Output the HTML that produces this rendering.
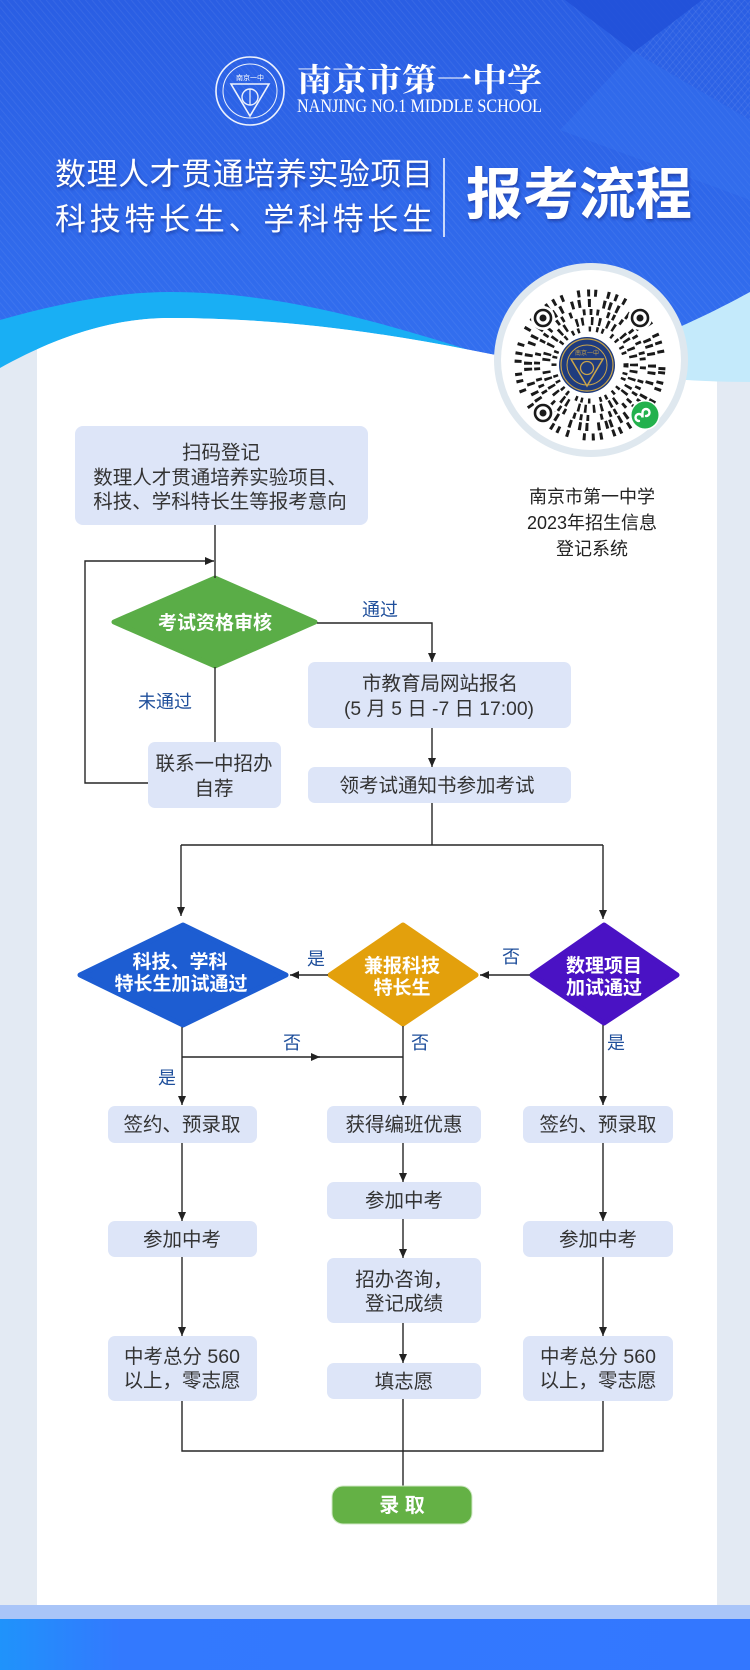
<!DOCTYPE html>
<html><head><meta charset="utf-8">
<style>
html,body{margin:0;padding:0;width:750px;height:1670px;overflow:hidden;background:#e3eaf3}
svg{display:block}
text{font-family:"Liberation Sans","Noto Sans CJK SC",sans-serif}
</style></head><body>
<svg width="750" height="1670" viewBox="0 0 750 1670" xmlns="http://www.w3.org/2000/svg">
<defs>
 <linearGradient id="hdr" x1="0" y1="0" x2="0" y2="1">
  <stop offset="0" stop-color="#2a5ee3"/><stop offset="1" stop-color="#3574f3"/>
 </linearGradient>
 <pattern id="str1" width="5" height="5" patternUnits="userSpaceOnUse" patternTransform="rotate(-40)">
  <line x1="0" y1="0" x2="0" y2="5" stroke="#ffffff" stroke-opacity="0.07" stroke-width="1.6"/>
 </pattern>
 <pattern id="str2" width="5" height="5" patternUnits="userSpaceOnUse" patternTransform="rotate(40)">
  <line x1="0" y1="0" x2="0" y2="5" stroke="#ffffff" stroke-opacity="0.09" stroke-width="1.6"/>
 </pattern>
 <linearGradient id="bot" x1="0" y1="0" x2="1" y2="0">
  <stop offset="0" stop-color="#1f93fb"/><stop offset="0.16" stop-color="#3379fe"/><stop offset="1" stop-color="#3377ff"/>
 </linearGradient>
 <marker id="ah" markerWidth="9" markerHeight="8" refX="9" refY="4" orient="auto" markerUnits="userSpaceOnUse">
  <path d="M0,0 L9,4 L0,8 Z" fill="#222"/>
 </marker>
 <filter id="sh" x="-10%" y="-30%" width="120%" height="160%">
  <feDropShadow dx="1" dy="2" stdDeviation="1.6" flood-color="#0a2070" flood-opacity="0.55"/>
 </filter>
 <clipPath id="panel"><rect x="37" y="0" width="680" height="1605"/></clipPath>
</defs>

<!-- header -->
<rect x="0" y="0" width="750" height="470" fill="url(#hdr)"/>
<rect x="0" y="0" width="750" height="470" fill="url(#str1)"/>
<polygon points="565,0 702,0 634,52" fill="#2150d8" opacity="0.85"/>
<polygon points="702,0 750,0 750,120 634,52" fill="url(#str2)"/>
<polygon points="634,52 750,120 750,200 560,130" fill="#3a78f4" opacity="0.35"/>

<!-- waves -->
<path d="M300,330 C400,345 450,362 520,364 C600,366 680,330 750,292 L750,470 L300,470 Z" fill="#c4eafb"/>
<path d="M0,320 C50,306 110,292 170,292 C280,292 380,322 482,354 L482,470 L0,470 Z" fill="#19aff4"/>
<path d="M0,368 C40,346 100,318 170,318 C270,318 370,330 470,350 C570,370 660,382 750,382 L750,1670 L0,1670 Z" fill="#e3eaf3"/>
<path d="M0,368 C40,346 100,318 170,318 C270,318 370,330 470,350 C570,370 660,382 750,382 L750,1670 L0,1670 Z" fill="#ffffff" clip-path="url(#panel)"/>

<!-- bottom band -->
<rect x="0" y="1605" width="750" height="14" fill="#a9c5f8"/>
<rect x="0" y="1619" width="750" height="51" fill="url(#bot)"/>

<!-- header logo -->
<g fill="none" stroke="#ffffff" opacity="0.92">
 <circle cx="250" cy="91" r="34" stroke-width="1.6"/>
 <circle cx="250" cy="91" r="27" stroke-width="1"/>
 <path d="M231,84 L269,84 L250,116 Z" stroke-width="1.6"/>
 <circle cx="250" cy="97" r="8" stroke-width="1.4"/>
 <line x1="250" y1="89" x2="250" y2="105" stroke-width="1.2"/>
</g>
<text x="250" y="80" font-size="7" fill="#fff" text-anchor="middle">南京一中</text>

<text x="297" y="91" font-size="32" fill="#ffffff" font-weight="bold" textLength="245" lengthAdjust="spacingAndGlyphs" style="font-family:'Noto Serif CJK SC','Liberation Serif',serif">南京市第一中学</text>
<text x="297" y="112" font-size="19" fill="#ffffff" textLength="245" lengthAdjust="spacingAndGlyphs" style="font-family:'Liberation Serif',serif">NANJING NO.1 MIDDLE SCHOOL</text>

<!-- title -->
<g filter="url(#sh)" fill="#ffffff">
 <text x="55" y="185" font-size="31" textLength="378" lengthAdjust="spacing">数理人才贯通培养实验项目</text>
 <text x="55" y="230" font-size="31" textLength="378" lengthAdjust="spacing">科技特长生、学科特长生</text>
 <text x="466" y="214" font-size="56" font-weight="bold" textLength="226" lengthAdjust="spacingAndGlyphs">报考流程</text>
</g>
<line x1="444" y1="158" x2="444" y2="237" stroke="#ffffff" stroke-opacity="0.75" stroke-width="2"/>

<!-- QR code -->
<circle cx="591" cy="360" r="97" fill="#dfe8ef"/>
<circle cx="591" cy="360" r="90" fill="#ffffff"/>
<g fill="none" stroke="#1a1a1a">
 <circle cx="590" cy="365" r="36" stroke-width="5" stroke-dasharray="2.5 5 2.5 3 2.5 8 2.5 4 2.5 6 2.5 3.5 2.5 9"/>
 <circle cx="590" cy="365" r="44" stroke-width="8" stroke-dasharray="2.6 6 2.6 4 2.6 10 2.6 3 2.6 7 2.6 5" transform="rotate(17 590 365)"/>
 <circle cx="590" cy="365" r="53" stroke-width="6" stroke-dasharray="2.8 4 2.8 8 2.8 3 2.8 6 2.8 11 2.8 4" transform="rotate(41 590 365)"/>
 <circle cx="590" cy="365" r="62" stroke-width="8" stroke-dasharray="3 5 3 9 3 4 3 7 3 12 3 3" transform="rotate(73 590 365)"/>
 <circle cx="590" cy="365" r="72" stroke-width="7" stroke-dasharray="3 7 3 4 3 10 3 5 3 6 3 14" transform="rotate(5 590 365)"/>
</g>
<g>
 <circle cx="543" cy="318" r="12" fill="#fff"/><circle cx="543" cy="318" r="8" fill="none" stroke="#1a1a1a" stroke-width="2.6"/><circle cx="543" cy="318" r="3.5" fill="#1a1a1a"/>
 <circle cx="640" cy="318" r="12" fill="#fff"/><circle cx="640" cy="318" r="8" fill="none" stroke="#1a1a1a" stroke-width="2.6"/><circle cx="640" cy="318" r="3.5" fill="#1a1a1a"/>
 <circle cx="543" cy="413" r="12" fill="#fff"/><circle cx="543" cy="413" r="8" fill="none" stroke="#1a1a1a" stroke-width="2.6"/><circle cx="543" cy="413" r="3.5" fill="#1a1a1a"/>
</g>
<circle cx="587" cy="365" r="30" fill="#ffffff"/>
<circle cx="587" cy="365" r="28" fill="#1f3c7e"/>
<g fill="none" stroke="#c9a44a">
 <circle cx="587" cy="365" r="26" stroke-width="1.2"/>
 <circle cx="587" cy="365" r="20" stroke-width="1"/>
 <path d="M571,359 L603,359 L587,386 Z" stroke-width="1.5"/>
 <circle cx="587" cy="368" r="6.5" stroke-width="1.3"/>
</g>
<text x="587" y="355" font-size="6" fill="#c9a44a" text-anchor="middle">南京一中</text>
<circle cx="645" cy="415" r="15" fill="#ffffff"/>
<circle cx="645" cy="415" r="13.5" fill="#23b14d"/>
<path d="M639,421 a3.5,3.5 0 1,1 3.5,-3.5 l0,-5 a3.5,3.5 0 1,1 3.5,3.5" fill="none" stroke="#fff" stroke-width="2.4" stroke-linecap="round"/>

<g font-size="18" fill="#222" text-anchor="middle">
 <text x="592" y="503">南京市第一中学</text>
 <text x="592" y="529">2023年招生信息</text>
 <text x="592" y="555">登记系统</text>
</g>

<!-- boxes -->
<g fill="#dde5f8">
 <rect x="75" y="426" width="293" height="99" rx="8"/>
 <rect x="308" y="662" width="263" height="66" rx="7"/>
 <rect x="148" y="742" width="133" height="66" rx="7"/>
 <rect x="308" y="767" width="263" height="36" rx="7"/>
 <rect x="108" y="1106" width="149" height="37" rx="7"/>
 <rect x="108" y="1221" width="149" height="36" rx="7"/>
 <rect x="108" y="1336" width="149" height="65" rx="7"/>
 <rect x="327" y="1106" width="154" height="37" rx="7"/>
 <rect x="327" y="1182" width="154" height="37" rx="7"/>
 <rect x="327" y="1258" width="154" height="65" rx="7"/>
 <rect x="327" y="1363" width="154" height="36" rx="7"/>
 <rect x="523" y="1106" width="150" height="37" rx="7"/>
 <rect x="523" y="1221" width="150" height="36" rx="7"/>
 <rect x="523" y="1336" width="150" height="65" rx="7"/>
</g>
<g font-size="19.5" fill="#333" text-anchor="middle">
 <text x="221" y="459">扫码登记</text>
 <text x="220" y="484">数理人才贯通培养实验项目、</text>
 <text x="220" y="508">科技、学科特长生等报考意向</text>
 <text x="440" y="690">市教育局网站报名</text>
 <text x="439" y="715" textLength="190" lengthAdjust="spacingAndGlyphs">(5 月 5 日 -7 日 17:00)</text>
 <text x="214" y="770">联系一中招办</text>
 <text x="214" y="795">自荐</text>
 <text x="437" y="792">领考试通知书参加考试</text>
 <text x="182" y="1131">签约、预录取</text>
 <text x="182" y="1246">参加中考</text>
 <text x="182" y="1363">中考总分 560</text>
 <text x="182" y="1387">以上，零志愿</text>
 <text x="404" y="1131">获得编班优惠</text>
 <text x="404" y="1207">参加中考</text>
 <text x="404" y="1286">招办咨询，</text>
 <text x="404" y="1310">登记成绩</text>
 <text x="404" y="1388">填志愿</text>
 <text x="598" y="1131">签约、预录取</text>
 <text x="598" y="1246">参加中考</text>
 <text x="598" y="1363">中考总分 560</text>
 <text x="598" y="1387">以上，零志愿</text>
</g>

<!-- diamonds -->
<path d="M215,578 L315,622 L215,666 L114,622 Z" fill="#5aad47" stroke="#5aad47" stroke-width="5" stroke-linejoin="round"/>
<path d="M183,925 L286,975 L183,1025 L80,975 Z" fill="#1d5dd2" stroke="#1d5dd2" stroke-width="5" stroke-linejoin="round"/>
<path d="M403,925 L476,975 L403,1024 L330,975 Z" fill="#e3a00c" stroke="#e3a00c" stroke-width="5" stroke-linejoin="round"/>
<path d="M604,925 L677,975 L604,1023 L532,975 Z" fill="#4a12c4" stroke="#4a12c4" stroke-width="5" stroke-linejoin="round"/>
<g font-size="19" font-weight="bold" fill="#ffffff" text-anchor="middle">
 <text x="215" y="629">考试资格审核</text>
 <text x="180" y="968">科技、学科</text>
 <text x="181" y="990">特长生加试通过</text>
 <text x="402" y="972">兼报科技</text>
 <text x="402" y="994">特长生</text>
 <text x="604" y="972">数理项目</text>
 <text x="604" y="994">加试通过</text>
</g>

<!-- connectors -->
<g stroke="#262626" stroke-width="1.4" fill="none">
 <line x1="215" y1="525" x2="215" y2="578"/>
 <polyline points="148,783 85,783 85,561 214,561" marker-end="url(#ah)"/>
 <polyline points="317,623 432,623 432,662" marker-end="url(#ah)"/>
 <line x1="215" y1="667" x2="215" y2="742"/>
 <line x1="432" y1="728" x2="432" y2="767" marker-end="url(#ah)"/>
 <line x1="432" y1="803" x2="432" y2="845"/>
 <line x1="181" y1="845" x2="603" y2="845"/>
 <line x1="181" y1="845" x2="181" y2="916" marker-end="url(#ah)"/>
 <line x1="603" y1="845" x2="603" y2="919" marker-end="url(#ah)"/>
 <line x1="328" y1="975" x2="290" y2="975" marker-end="url(#ah)"/>
 <line x1="530" y1="975" x2="480" y2="975" marker-end="url(#ah)"/>
 <line x1="182" y1="1027" x2="182" y2="1105" marker-end="url(#ah)"/>
 <line x1="182" y1="1057" x2="320" y2="1057" marker-end="url(#ah)"/>
 <line x1="318" y1="1057" x2="403" y2="1057"/>
 <line x1="403" y1="1026" x2="403" y2="1105" marker-end="url(#ah)"/>
 <line x1="603" y1="1025" x2="603" y2="1105" marker-end="url(#ah)"/>
 <line x1="182" y1="1143" x2="182" y2="1221" marker-end="url(#ah)"/>
 <line x1="182" y1="1257" x2="182" y2="1336" marker-end="url(#ah)"/>
 <line x1="403" y1="1143" x2="403" y2="1182" marker-end="url(#ah)"/>
 <line x1="403" y1="1219" x2="403" y2="1258" marker-end="url(#ah)"/>
 <line x1="403" y1="1323" x2="403" y2="1363" marker-end="url(#ah)"/>
 <line x1="603" y1="1143" x2="603" y2="1221" marker-end="url(#ah)"/>
 <line x1="603" y1="1257" x2="603" y2="1336" marker-end="url(#ah)"/>
 <polyline points="182,1401 182,1451 603,1451 603,1401"/>
 <line x1="403" y1="1399" x2="403" y2="1486"/>
</g>

<!-- labels -->
<g font-size="18" fill="#1f4f9b" text-anchor="middle">
 <text x="380" y="616">通过</text>
 <text x="165" y="708">未通过</text>
 <text x="316" y="965">是</text>
 <text x="511" y="963">否</text>
 <text x="167" y="1084">是</text>
 <text x="292" y="1049">否</text>
 <text x="420" y="1049">否</text>
 <text x="616" y="1049">是</text>
</g>

<!-- final button -->
<rect x="332" y="1486" width="140" height="38" rx="11" fill="#64b145" stroke="#cfe8c4" stroke-width="1"/>
<text x="402" y="1512" font-size="20" font-weight="bold" fill="#ffffff" text-anchor="middle">录 取</text>
</svg>
</body></html>
